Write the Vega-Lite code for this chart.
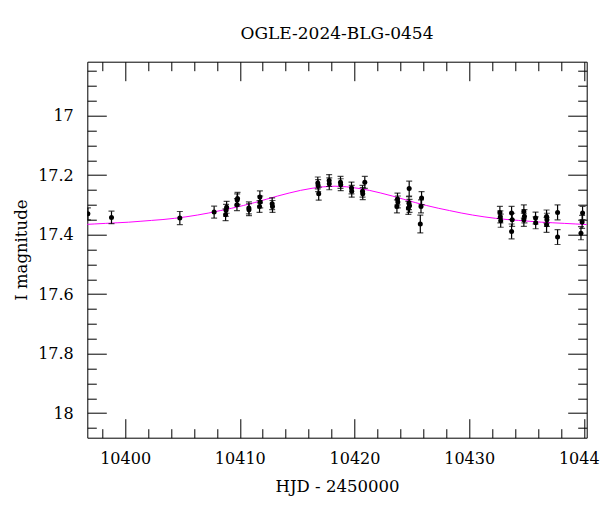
{
  "$schema": "https://vega.github.io/schema/vega-lite/v6.json",
  "width": 499.4,
  "height": 376,
  "autosize": "none",
  "padding": {"left": 87.3, "top": 61.7, "right": 13.3, "bottom": 74.3},
  "background": "white",
  "title": {"text": "OGLE-2024-BLG-0454", "font": "DejaVu Serif", "fontSize": 17, "fontWeight": "normal", "color": "black", "anchor": "middle", "frame": "group", "baseline": "alphabetic", "offset": 5},
  "config": {
    "view": {"stroke": "black", "strokeWidth": 1},
    "axis": {"grid": false, "domain": false, "tickColor": "black", "tickWidth": 1, "labelFont": "DejaVu Serif", "labelFontSize": 16, "labelColor": "black", "titleFont": "DejaVu Serif", "titleFontSize": 16.5, "titleFontWeight": "normal", "titleColor": "black", "labelOverlap": false, "labelBound": false, "labelFlush": false}
  },
  "datasets": {
    "model": [
      {"t": 10396.3, "mag": 17.366}, {"t": 10397.3, "mag": 17.364}, {"t": 10398.3, "mag": 17.362}, {"t": 10399.3, "mag": 17.360},
      {"t": 10400.3, "mag": 17.358}, {"t": 10401.3, "mag": 17.355}, {"t": 10402.3, "mag": 17.352}, {"t": 10403.3, "mag": 17.349},
      {"t": 10404.3, "mag": 17.345}, {"t": 10405.3, "mag": 17.340}, {"t": 10406.3, "mag": 17.334}, {"t": 10407.3, "mag": 17.327},
      {"t": 10408.3, "mag": 17.319}, {"t": 10409.3, "mag": 17.311}, {"t": 10410.3, "mag": 17.302}, {"t": 10411.3, "mag": 17.292},
      {"t": 10412.3, "mag": 17.281}, {"t": 10413.3, "mag": 17.270}, {"t": 10414.3, "mag": 17.260}, {"t": 10415.3, "mag": 17.251},
      {"t": 10416.3, "mag": 17.244}, {"t": 10417.3, "mag": 17.239}, {"t": 10418.3, "mag": 17.237}, {"t": 10419.3, "mag": 17.239},
      {"t": 10420.3, "mag": 17.244}, {"t": 10421.3, "mag": 17.251}, {"t": 10422.3, "mag": 17.260}, {"t": 10423.3, "mag": 17.270},
      {"t": 10424.3, "mag": 17.281}, {"t": 10425.3, "mag": 17.292}, {"t": 10426.3, "mag": 17.302}, {"t": 10427.3, "mag": 17.311},
      {"t": 10428.3, "mag": 17.319}, {"t": 10429.3, "mag": 17.327}, {"t": 10430.3, "mag": 17.334}, {"t": 10431.3, "mag": 17.340},
      {"t": 10432.3, "mag": 17.345}, {"t": 10433.3, "mag": 17.349}, {"t": 10434.3, "mag": 17.352}, {"t": 10435.3, "mag": 17.355},
      {"t": 10436.3, "mag": 17.358}, {"t": 10437.3, "mag": 17.360}, {"t": 10438.3, "mag": 17.362}, {"t": 10439.3, "mag": 17.364},
      {"t": 10440.3, "mag": 17.366}
    ],
    "obs": [
      {"t": 10396.75, "mag": 17.330, "err": 0.020},
      {"t": 10398.81, "mag": 17.342, "err": 0.021},
      {"t": 10404.77, "mag": 17.344, "err": 0.022},
      {"t": 10407.76, "mag": 17.324, "err": 0.020},
      {"t": 10408.76, "mag": 17.333, "err": 0.020},
      {"t": 10408.80, "mag": 17.318, "err": 0.020},
      {"t": 10408.85, "mag": 17.308, "err": 0.020},
      {"t": 10409.77, "mag": 17.283, "err": 0.020},
      {"t": 10409.80, "mag": 17.278, "err": 0.020},
      {"t": 10409.75, "mag": 17.299, "err": 0.020},
      {"t": 10410.79, "mag": 17.310, "err": 0.020},
      {"t": 10410.80, "mag": 17.316, "err": 0.020},
      {"t": 10411.75, "mag": 17.273, "err": 0.020},
      {"t": 10411.78, "mag": 17.290, "err": 0.020},
      {"t": 10411.72, "mag": 17.305, "err": 0.020},
      {"t": 10412.82, "mag": 17.296, "err": 0.020},
      {"t": 10412.85, "mag": 17.305, "err": 0.020},
      {"t": 10416.80, "mag": 17.226, "err": 0.020},
      {"t": 10416.83, "mag": 17.235, "err": 0.020},
      {"t": 10416.88, "mag": 17.262, "err": 0.022},
      {"t": 10417.79, "mag": 17.218, "err": 0.020},
      {"t": 10417.80, "mag": 17.229, "err": 0.020},
      {"t": 10418.78, "mag": 17.224, "err": 0.020},
      {"t": 10418.80, "mag": 17.232, "err": 0.020},
      {"t": 10419.74, "mag": 17.243, "err": 0.020},
      {"t": 10419.76, "mag": 17.254, "err": 0.020},
      {"t": 10420.90, "mag": 17.224, "err": 0.020},
      {"t": 10420.70, "mag": 17.254, "err": 0.020},
      {"t": 10420.72, "mag": 17.262, "err": 0.020},
      {"t": 10423.75, "mag": 17.280, "err": 0.020},
      {"t": 10423.70, "mag": 17.305, "err": 0.022},
      {"t": 10423.78, "mag": 17.290, "err": 0.020},
      {"t": 10424.77, "mag": 17.245, "err": 0.025},
      {"t": 10424.75, "mag": 17.294, "err": 0.022},
      {"t": 10424.80, "mag": 17.303, "err": 0.022},
      {"t": 10424.70, "mag": 17.310, "err": 0.022},
      {"t": 10425.85, "mag": 17.277, "err": 0.022},
      {"t": 10425.80, "mag": 17.305, "err": 0.022},
      {"t": 10425.74, "mag": 17.364, "err": 0.030},
      {"t": 10432.68, "mag": 17.325, "err": 0.020},
      {"t": 10432.72, "mag": 17.340, "err": 0.020},
      {"t": 10432.75, "mag": 17.353, "err": 0.022},
      {"t": 10433.70, "mag": 17.327, "err": 0.022},
      {"t": 10433.75, "mag": 17.350, "err": 0.022},
      {"t": 10433.70, "mag": 17.389, "err": 0.025},
      {"t": 10434.77, "mag": 17.322, "err": 0.022},
      {"t": 10434.82, "mag": 17.338, "err": 0.022},
      {"t": 10434.77, "mag": 17.350, "err": 0.022},
      {"t": 10435.79, "mag": 17.344, "err": 0.020},
      {"t": 10435.80, "mag": 17.360, "err": 0.020},
      {"t": 10436.75, "mag": 17.339, "err": 0.022},
      {"t": 10436.78, "mag": 17.350, "err": 0.022},
      {"t": 10436.75, "mag": 17.367, "err": 0.025},
      {"t": 10437.71, "mag": 17.325, "err": 0.025},
      {"t": 10437.71, "mag": 17.408, "err": 0.025},
      {"t": 10439.89, "mag": 17.327, "err": 0.022},
      {"t": 10439.85, "mag": 17.357, "err": 0.022},
      {"t": 10439.75, "mag": 17.395, "err": 0.022}
    ]
  },
  "resolve": {"axis": {"x": "independent", "y": "independent"}},
  "layer": [
    {
      "data": {"name": "model"},
      "mark": {"type": "line", "color": "#ff00ff", "strokeWidth": 1, "clip": true},
      "encoding": {
        "x": {"field": "t", "type": "quantitative", "scale": {"domain": [10396.7, 10440.25], "nice": false, "zero": false},
          "axis": {"orient": "bottom", "values": [10400, 10410, 10420, 10430, 10440], "format": "d", "offset": -19, "tickSize": 19, "labelPadding": 25.6, "labelBaseline": "alphabetic", "title": "HJD - 2450000", "titlePadding": 12}},
        "y": {"field": "mag", "type": "quantitative", "scale": {"domain": [16.8185, 18.0824], "reverse": true, "nice": false, "zero": false},
          "axis": {"orient": "left", "values": [17, 17.2, 17.4, 17.6, 17.8, 18], "format": "~g", "offset": -19, "tickSize": 19, "labelPadding": 14, "title": "I magnitude", "titlePadding": 8}}
      }
    },
    {
      "data": {"name": "obs"},
      "mark": {"type": "errorbar", "ticks": {"size": 6, "thickness": 1.2, "color": "black"}, "rule": {"color": "black", "strokeWidth": 1.2}, "clip": true},
      "encoding": {
        "x": {"field": "t", "type": "quantitative", "scale": {"domain": [10396.7, 10440.25], "nice": false, "zero": false},
          "axis": {"orient": "bottom", "values": [10398, 10402, 10404, 10406, 10408, 10412, 10414, 10416, 10418, 10422, 10424, 10426, 10428, 10432, 10434, 10436, 10438], "offset": -9, "tickSize": 9, "labels": false, "title": null}},
        "y": {"field": "mag", "type": "quantitative", "scale": {"domain": [16.8185, 18.0824], "reverse": true, "nice": false, "zero": false},
          "axis": {"orient": "left", "values": [16.85, 16.9, 16.95, 17.05, 17.1, 17.15, 17.25, 17.3, 17.35, 17.45, 17.5, 17.55, 17.65, 17.7, 17.75, 17.85, 17.9, 17.95, 18.05], "offset": -9, "tickSize": 9, "labels": false, "title": null}},
        "yError": {"field": "err"}
      }
    },
    {
      "data": {"name": "obs"},
      "mark": {"type": "circle", "color": "black", "size": 25, "opacity": 1, "clip": true},
      "encoding": {
        "x": {"field": "t", "type": "quantitative", "scale": {"domain": [10396.7, 10440.25], "nice": false, "zero": false},
          "axis": {"orient": "top", "values": [10400, 10410, 10420, 10430, 10440], "offset": -19, "tickSize": 19, "labels": false, "title": null}},
        "y": {"field": "mag", "type": "quantitative", "scale": {"domain": [16.8185, 18.0824], "reverse": true, "nice": false, "zero": false},
          "axis": {"orient": "right", "values": [17, 17.2, 17.4, 17.6, 17.8, 18], "offset": -19, "tickSize": 19, "labels": false, "title": null}}
      }
    },
    {
      "data": {"name": "obs"},
      "mark": {"type": "circle", "color": "black", "size": 25, "opacity": 0, "clip": true},
      "encoding": {
        "x": {"field": "t", "type": "quantitative", "scale": {"domain": [10396.7, 10440.25], "nice": false, "zero": false},
          "axis": {"orient": "top", "values": [10398, 10402, 10404, 10406, 10408, 10412, 10414, 10416, 10418, 10422, 10424, 10426, 10428, 10432, 10434, 10436, 10438], "offset": -9, "tickSize": 9, "labels": false, "title": null}},
        "y": {"field": "mag", "type": "quantitative", "scale": {"domain": [16.8185, 18.0824], "reverse": true, "nice": false, "zero": false},
          "axis": {"orient": "right", "values": [16.85, 16.9, 16.95, 17.05, 17.1, 17.15, 17.25, 17.3, 17.35, 17.45, 17.5, 17.55, 17.65, 17.7, 17.75, 17.85, 17.9, 17.95, 18.05], "offset": -9, "tickSize": 9, "labels": false, "title": null}}
      }
    }
  ]
}
